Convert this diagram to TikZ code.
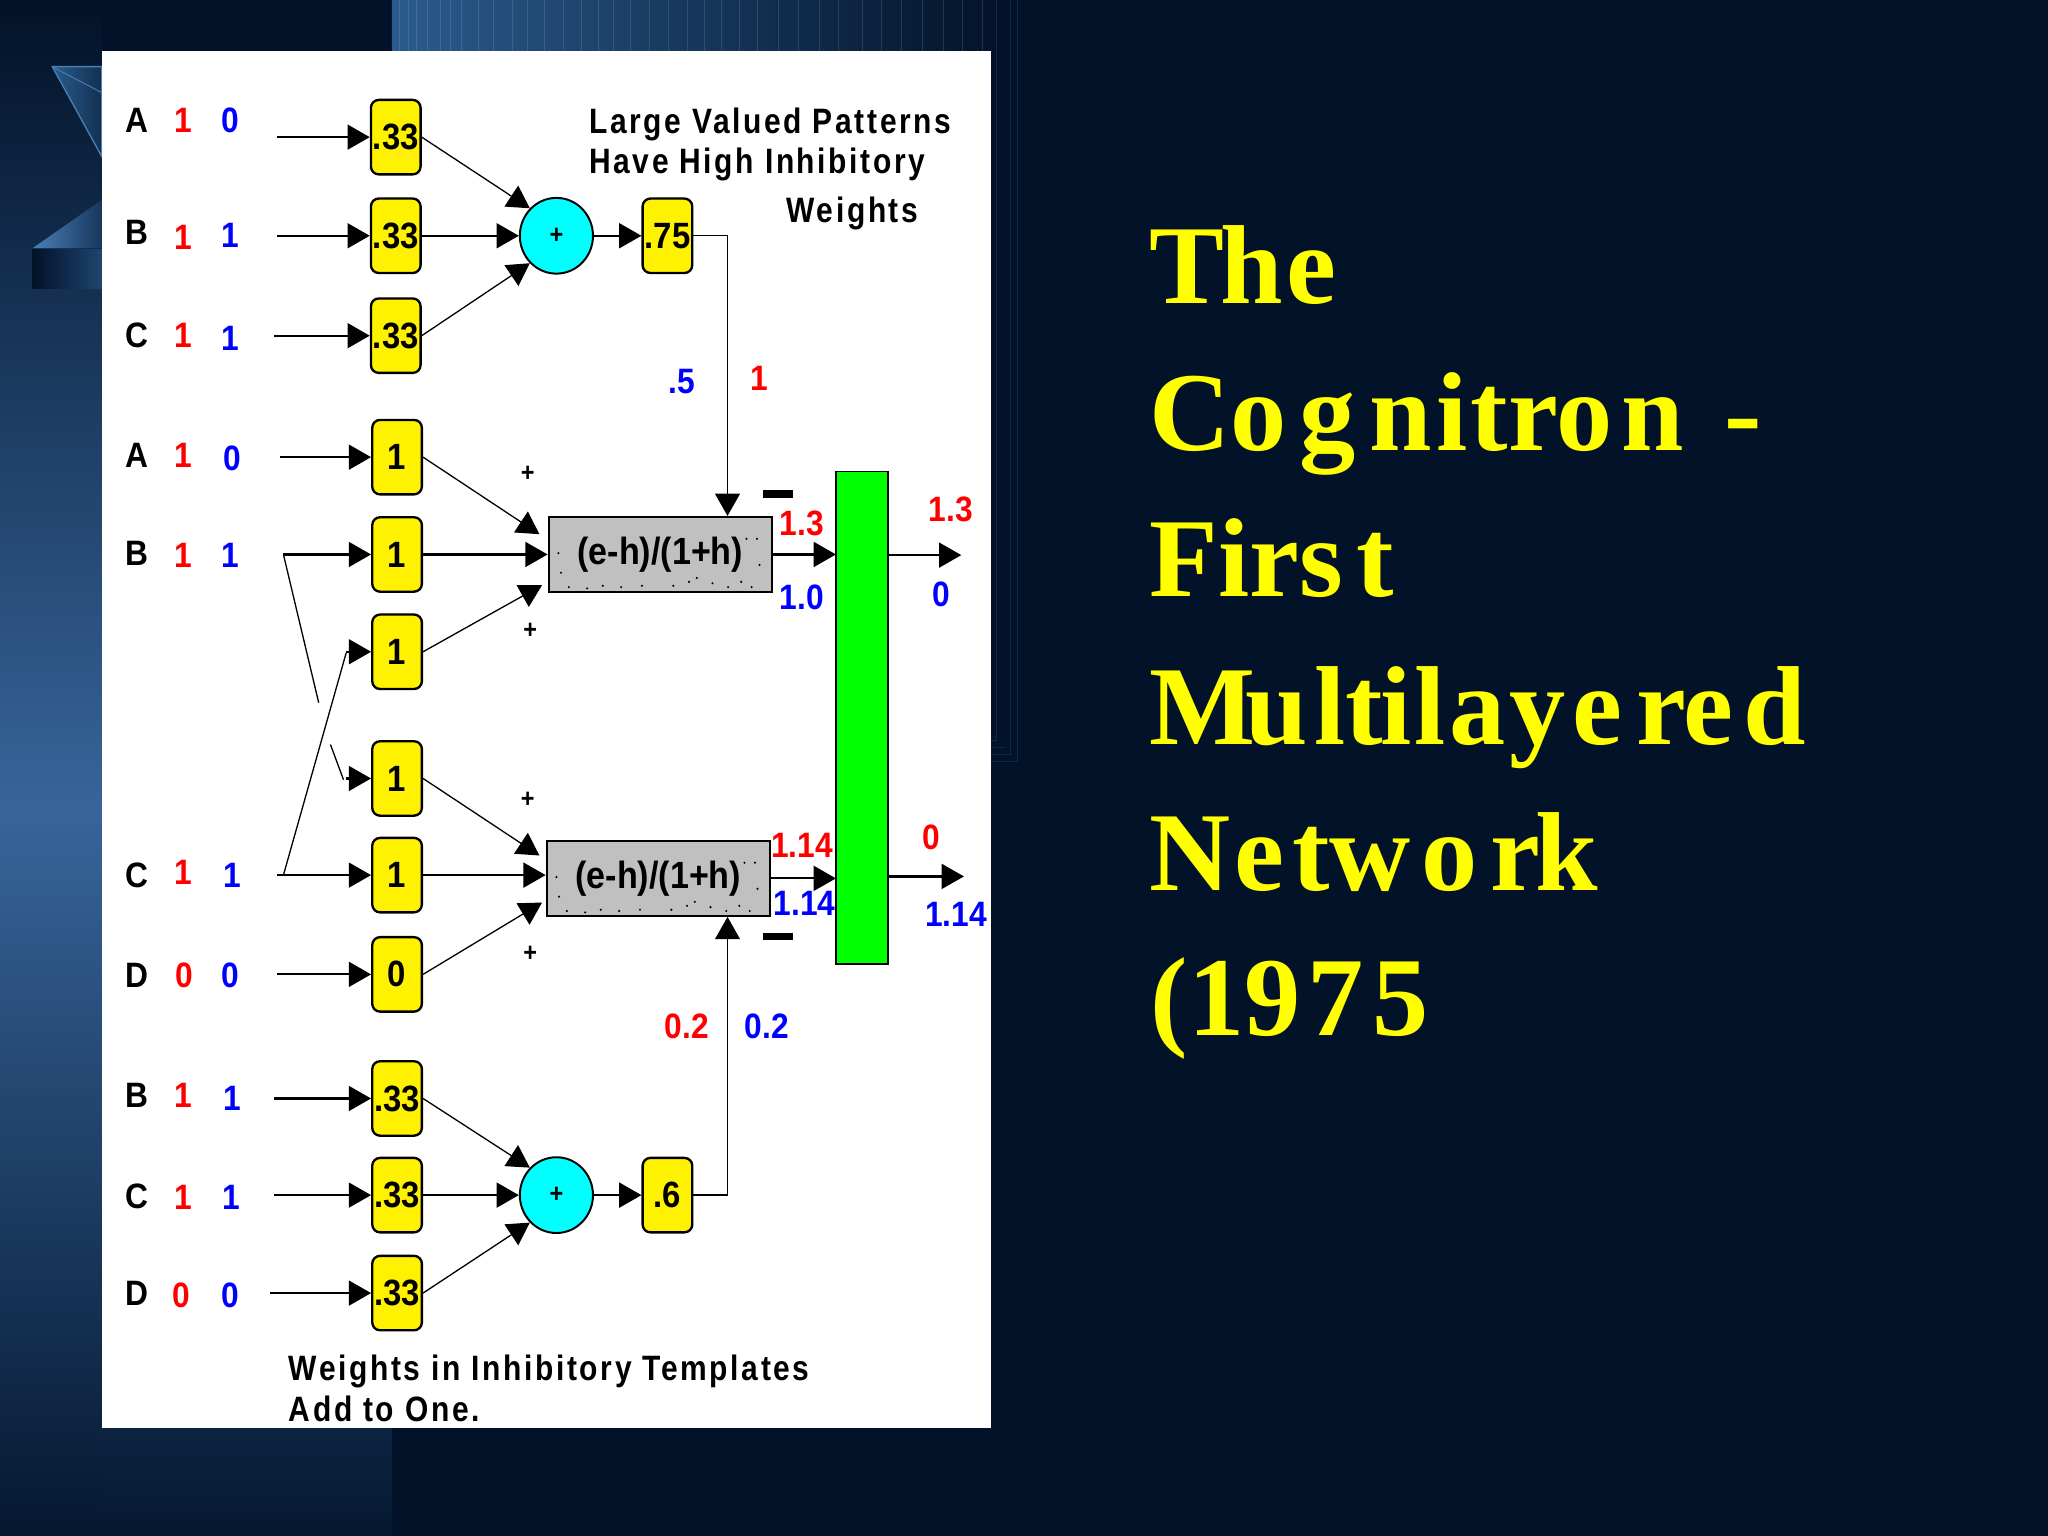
\documentclass[tikz,border=0pt]{standalone}
\usepackage{fontspec}
\usepackage{tikz}
\usetikzlibrary{positioning,calc,shapes,arrows.meta}
\setmainfont{Liberation Sans}
\newfontfamily\narrowfont[FakeStretch=0.9]{Liberation Sans}
\newfontfamily\notefont[FakeStretch=0.85,LetterSpace=7.4]{Liberation Sans}
\newfontfamily\titlefont{Liberation Serif}[BoldFont={Liberation Serif Bold}]
\newcommand{\kk}[1]{\kern#1pt\relax}
\definecolor{navy}{HTML}{021228}
\definecolor{bandblue}{HTML}{2B5B8E}
\definecolor{stripblue}{HTML}{37659A}
\definecolor{edgeblue}{HTML}{4A80B8}
\definecolor{sumcyan}{HTML}{00FFFF}
\definecolor{titleyellow}{HTML}{FFFF00}
\definecolor{boxgray}{HTML}{C0C0C0}
\tikzset{
  wire/.style={line width=1pt,black},
  inwire/.style={line width=1.7pt,black},
  tip/.style={-{Triangle[length=17pt,width=19pt]}},
  weight/.style={draw=black,line width=1.8pt,fill=yellow,rounded corners=6pt,minimum width=38pt,minimum height=57pt,inner sep=0pt,font=\narrowfont\bfseries\fontsize{28}{28}\selectfont},
  sumnode/.style={draw=black,line width=1.5pt,fill=sumcyan,ellipse,minimum width=56pt,minimum height=58pt,inner sep=0pt,font=\narrowfont\bfseries\fontsize{20}{20}\selectfont},
  cellbox/.style={draw=black,line width=1.5pt,fill=boxgray,minimum width=171pt,minimum height=57pt,inner sep=0pt,font=\narrowfont\bfseries\fontsize{29}{29}\selectfont},
  val/.style={inner sep=0pt,font=\narrowfont\bfseries\fontsize{27}{27}\selectfont},
  note/.style={inner sep=0pt,anchor=base west,font=\notefont\bfseries\fontsize{27}{27}\selectfont},
  minusbar/.style={fill=black,minimum width=23pt,minimum height=6pt,inner sep=0pt},
  headline/.style={inner sep=0pt,anchor=base west,text=titleyellow,font=\titlefont\bfseries\fontsize{86}{86}\selectfont}
}
\begin{document}
\begin{tikzpicture}[x=1pt,y=-1pt]
  \useasboundingbox (0,0) rectangle (1568,1175.7);
  \fill[navy] (0,0) rectangle (1568,1176);
  \shade[top color=navy,bottom color=stripblue] (0,0) rectangle (78,620);
  \shade[top color=stripblue,bottom color=navy!92!bandblue] (0,620) rectangle (78,1176);
  \shade[top color=navy!75!bandblue,bottom color=navy!92!bandblue] (78,1093) rectangle (300,1176);
  \shade[left color=bandblue,right color=navy] (300,0) rectangle (770,39);
  \foreach \xx in {306,313,319,327,337,345,353,366,378,392,404,417,431,445,458,470,483,497,512,526,539,552,566,580,596,611,627,642,660,675,690,706,722,737,752}{\draw[white,opacity=0.12,line width=0.6pt] (\xx,0) -- (\xx,39);}
  \draw[navy!80!edgeblue,line width=0.7pt] (763,0) |- (759,567) (774,0) |- (759,578) (779,0) |- (759,583) (769,572) -- (759,572);
  \filldraw[left color=bandblue,right color=navy!60!bandblue,draw=edgeblue,line width=1pt] (40,51) -- (78,51) -- (78,120) -- cycle;
  \draw[edgeblue,line width=0.7pt] (40,51) -- (78,71);
  \shade[left color=edgeblue,right color=navy!50!bandblue] (25,190) -- (78,153) -- (78,190) -- cycle;
  \shade[left color=navy,right color=navy!30!bandblue] (25,191) rectangle (78,221);
  \fill[white] (78,39) rectangle (759,1093);

  \foreach \nm/\xx/\yy/\txt/\sx in {ta/303/105/.33/212,tb/303/180.5/.33/212,tc/303/257/.33/210,ma/304/350/1/214,mb/304/424.5/1/217,mc/304/499/1/0,md/304/596/1/0,me/304/670/1/212,mf/304/746/0/212,ba/304/841/.33/210,bb/304/915/.33/210,bc/304/990/.33/207}{\node[weight] (\nm) at (\xx,\yy){\txt};\coordinate (in\nm) at (\sx,\yy);}
  \node[sumnode] (suma) at (426,180.5){+};
  \node[sumnode] (sumb) at (426,915){+};
  \node[weight] (outa) at (511,180.5){.75};
  \node[weight] (outb) at (511,915){.6};
  \node[cellbox] (cella) at (505.5,424.5){(e-h)/(1+h)};
  \node[cellbox] (cellb) at (504,672.5){(e-h)/(1+h)};
  \node[draw=black,line width=1.5pt,fill=green,minimum width=40pt,minimum height=377pt,inner sep=0pt] (bar) at (660,549.5){};
  \foreach \dx/\dy in {-78/-1,-76/14,-70/25,-56/26,-44/24,-30/25,-14/24,10/24,22/21,28/18,40/22,52/25,62/21,70/25,76/8,74/-12,66/-12}{\fill (cella.center)++(\dx,\dy) circle (0.9);\fill (cellb.center)++(\dx,\dy) circle (0.9);}

  \foreach \nm in {ta,tb,tc,ma,mb,me,mf,ba,bb,bc}{\draw[inwire,tip] (in\nm) -- (\nm.west);}
  \coordinate (xbtop) at (244,538);
  \coordinate (xbgap) at (253,570);
  \coordinate (xbend) at (263,597);
  \coordinate (xcfoot) at (217,670);
  \coordinate (xcend) at (265,500);
  \coordinate (headmc) at (265,499);
  \coordinate (headmd) at (265,596);
  \draw[wire] (inmb) -- (xbtop);
  \draw[wire] (xbgap) -- (xbend);
  \draw[wire] (xcfoot) -- (xcend);
  \draw[inwire,tip] (headmc) -- (mc.west);
  \draw[inwire,tip] (headmd) -- (md.west);

  \draw[wire,tip] (ta.east) -- (suma.north west);
  \draw[inwire,tip] (tb.east) -- (suma.west);
  \draw[wire,tip] (tc.east) -- (suma.south west);
  \draw[inwire,tip] (suma.east) -- (outa.west);
  \draw[wire,tip] (ba.east) -- (sumb.north west);
  \draw[inwire,tip] (bb.east) -- (sumb.west);
  \draw[wire,tip] (bc.east) -- (sumb.south west);
  \draw[inwire,tip] (sumb.east) -- (outb.west);

  \coordinate (inca) at (413,409);
  \coordinate (incb) at (415,448);
  \coordinate (incc) at (413,655);
  \coordinate (incd) at (415,691);
  \coordinate (fba) at (557,395);
  \coordinate (fbb) at (557,702);
  \draw[wire,tip] (ma.east) -- (inca);
  \draw[inwire,tip] (mb.east) -- (cella.west);
  \draw[wire,tip] (mc.east) -- (incb);
  \draw[wire,tip] (md.east) -- (incc);
  \draw[inwire,tip] (me.east) -- (me.east -| cellb.west);
  \draw[wire,tip] (mf.east) -- (incd);
  \draw[wire,tip] (outa.east) -| (fba);
  \draw[wire,tip] (outb.east) -| (fbb);
  \coordinate (bara) at (640,424.5);
  \coordinate (barb) at (640,672.5);
  \coordinate (barc) at (680,425);
  \coordinate (bard) at (681,671);
  \coordinate (enda) at (736,425);
  \coordinate (endb) at (738,671);
  \draw[inwire,tip] (cella.east) -- (bara);
  \draw[inwire,tip] (cellb.east) -- (barb);
  \draw[inwire,tip] (barc) -- (enda);
  \draw[inwire,tip] (bard) -- (endb);

  \foreach \nm/\ly/\lx/\ay/\av/\by/\bv/\ax/\bx in {a/92/A/92/1/92/0/140/176,b/178/B/182/1/180/1/140/176,c/257/C/257/1/259/1/140/176,d/349/A/349/1/351/0/140/178,e/424/B/425/1/425/1/140/176,f/670/C/668/1/670/1/140/178,g/747/D/747/0/747/0/141/176,h/839/B/839/1/841/1/140/178,i/916/C/917/1/917/1/140/177,j/990/D/992/0/992/0/139/176}{\node[val] (row\nm) at (105,\ly){\lx};\node[val,text=red] (rowr\nm) at (\ax,\ay){\av};\node[val,text=blue] (rowb\nm) at (\bx,\by){\bv};}
  \foreach \nm/\xx/\yy in {pa/404/363,pb/406/483,pc/404/612,pd/406/730}{\node[val,font=\narrowfont\bfseries\fontsize{20}{20}\selectfont] (\nm) at (\xx,\yy){+};}
  \node[minusbar] (minusa) at (596,378){};
  \node[minusbar] (minusb) at (596,717){};
  \foreach \nm/\xx/\yy/\txt in {va/581/290/1,vb/614/401/1.3,vc/728/390/1.3,vd/614/647/1.14,ve/713/641/0,vf/526/786/0.2}{\node[val,text=red] (\nm) at (\xx,\yy){\txt};}
  \foreach \nm/\xx/\yy/\txt in {wa/522/292/.5,wb/614/457/1.0,wc/721/455/0,wd/616/692/1.14,we/732/700/1.14,wf/587/786/0.2}{\node[val,text=blue] (\nm) at (\xx,\yy){\txt};}
  \node[note] (noteup) at (451,102){Large Valued Patterns};
  \node[note] (notemid) at (451,133){Have High Inhibitory};
  \node[note] (noteweights) at (602,170){Weights};
  \node[note] (notedown) at (221,1057){Weights in Inhibitory Templates};
  \node[note] (notelast) at (221,1088){Add to One.};

  \node[headline] (ttl) at (880,232){T\kk{-3}h\kk{3}e};
  \node[headline] (ttm) at (880,345){Co\kk{10}g\kk{10}n\kk{4}i\kk{2}tro\kk{7}n\kk{10} -};
  \node[headline] (ttn) at (880,457){Firs\kk{10}t};
  \node[headline] (tto) at (880,570){M\kk{-8}u\kk{5}lt\kk{-2}i\kk{2}l\kk{3}a\kk{3}y\kk{5}e\kk{11}r\kk{-2}e\kk{8}d};
  \node[headline] (ttp) at (880,682){N\kk{3}e\kk{6}tw\kk{8}o\kk{10}r\kk{-4}k};
  \node[headline] (ttq) at (881,793){(19\kk{5}7\kk{7}5};
\end{tikzpicture}
\end{document}
